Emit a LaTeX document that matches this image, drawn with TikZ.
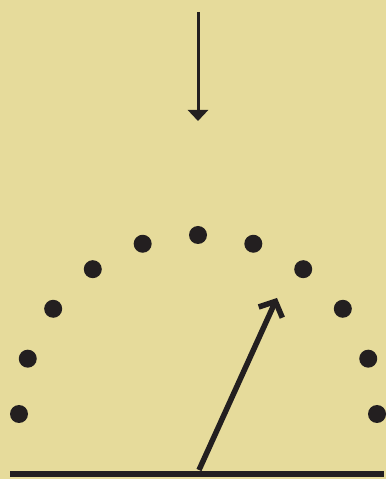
\documentclass[tikz,border=0pt]{standalone}
\usepackage{xcolor}
\usepackage{tikz}
\usetikzlibrary{arrows.meta, calc}
\definecolor{paper}{HTML}{E6DB9B}
\definecolor{ink}{HTML}{231F20}

\begin{document}
\begin{tikzpicture}[x=1pt, y=1pt,
    dot/.style={circle, fill=ink, inner sep=0pt, minimum size=18pt},
    fall/.style={draw=ink, line width=3pt, -{Triangle[length=11pt,width=20pt]}},
    ray/.style={draw=ink, line width=5.5pt, -{Straight Barb[length=12pt,width=26pt]}},
    ground/.style={draw=ink, line width=5.5pt}
]
\fill[paper] (0,0) rectangle (386,479);
\useasboundingbox (0,0) rectangle (386,479);

% incoming arrow
\coordinate (src) at (198,467);
\coordinate (hit) at (198,358);
\draw[fall] (src) -- (hit);

% dots on the half circle
\coordinate (ctr) at (198,65);
\foreach \i in {0,...,10}
  \node[dot] (d\i) at ($(ctr)+(\i*18:179)$) {};

% ground line and outgoing arrow
\coordinate (gl) at (10,5);
\coordinate (gr) at (384,5);
\draw[ground] (gl) -- (gr);
\coordinate (foot) at (199,9);
\coordinate (tip) at (277,181);
\draw[ray] (foot) -- (tip);
\end{tikzpicture}
\end{document}
